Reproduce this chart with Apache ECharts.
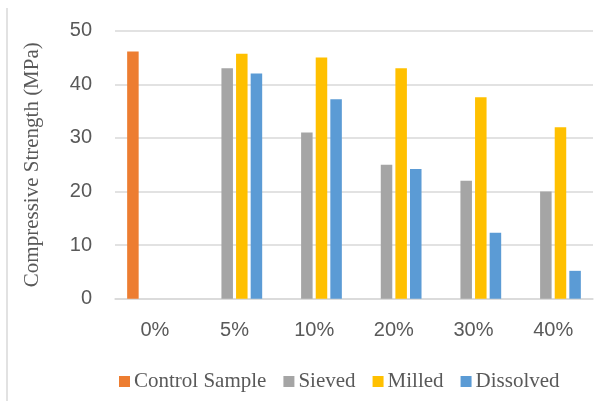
<!DOCTYPE html>
<html>
<head>
<meta charset="utf-8">
<script src="https://cdn.jsdelivr.net/npm/echarts@6/dist/echarts.min.js"></script>
<style>
  html, body { margin: 0; padding: 0; background: #fff; }
  #chart { width: 614px; height: 401px; }
</style>
</head>
<body>
<div id="chart"></div>
<script>
// Replacement level of the additive
const categories = ['0%', '5%', '10%', '20%', '30%', '40%'];

// Compressive strength, MPa
const controlSample = [46.1, '-', '-', '-', '-', '-'];
const sieved        = ['-', 43.0, 31.0, 25.0, 22.0, 20.0];
const milled        = ['-', 45.7, 45.0, 43.0, 37.6, 32.0];
const dissolved     = ['-', 42.0, 37.2, 24.2, 12.3, 5.2];

const yTicks = { min: 0, max: 50, interval: 10 };

const chart = echarts.init(document.getElementById('chart'), null, { renderer: 'canvas' });

const labelGray = '#595959';
const gridGray = '#d9d9d9';

function barSeries(name, data, color) {
  return {
    name: name,
    type: 'bar',
    data: data,
    barGap: '27%',
    barCategoryGap: '30.5%',
    itemStyle: { color: color },
    emphasis: { disabled: true }
  };
}

chart.setOption({
  animation: false,
  backgroundColor: '#ffffff',
  graphic: [{
    type: 'line',
    shape: { x1: 7, y1: 8, x2: 7, y2: 401 },
    style: { stroke: gridGray, lineWidth: 1.5 }
  }],
  grid: { left: 115, right: 21, top: 30.7, bottom: 102.3 },
  legend: {
    left: 114,
    top: 366,
    icon: 'rect',
    itemWidth: 11,
    itemHeight: 11,
    itemGap: 17,
    textStyle: { fontFamily: 'Liberation Serif', fontSize: 21, color: labelGray, padding: [0, 0, 0, -1] },
    data: ['Control Sample', 'Sieved', 'Milled', 'Dissolved']
  },
  xAxis: {
    type: 'category',
    data: categories,
    axisLine: { show: true, lineStyle: { color: gridGray, width: 1.5 } },
    axisTick: { show: false },
    axisLabel: { fontFamily: 'Liberation Sans', fontSize: 20, color: labelGray, margin: 22 }
  },
  yAxis: {
    type: 'value',
    min: yTicks.min,
    max: yTicks.max,
    interval: yTicks.interval,
    name: 'Compressive Strength (MPa)',
    nameLocation: 'middle',
    nameGap: 72,
    nameTextStyle: { fontFamily: 'Liberation Serif', fontSize: 21, color: labelGray },
    axisLine: { show: false },
    axisTick: { show: false },
    axisLabel: { fontFamily: 'Liberation Sans', fontSize: 20, color: labelGray, margin: 23 },
    splitLine: { lineStyle: { color: gridGray, width: 1.5 } }
  },
  series: [
    barSeries('Control Sample', controlSample, '#ED7D31'),
    barSeries('Sieved', sieved, '#A5A5A5'),
    barSeries('Milled', milled, '#FFC000'),
    barSeries('Dissolved', dissolved, '#5B9BD5')
  ]
});
</script>
</body>
</html>
